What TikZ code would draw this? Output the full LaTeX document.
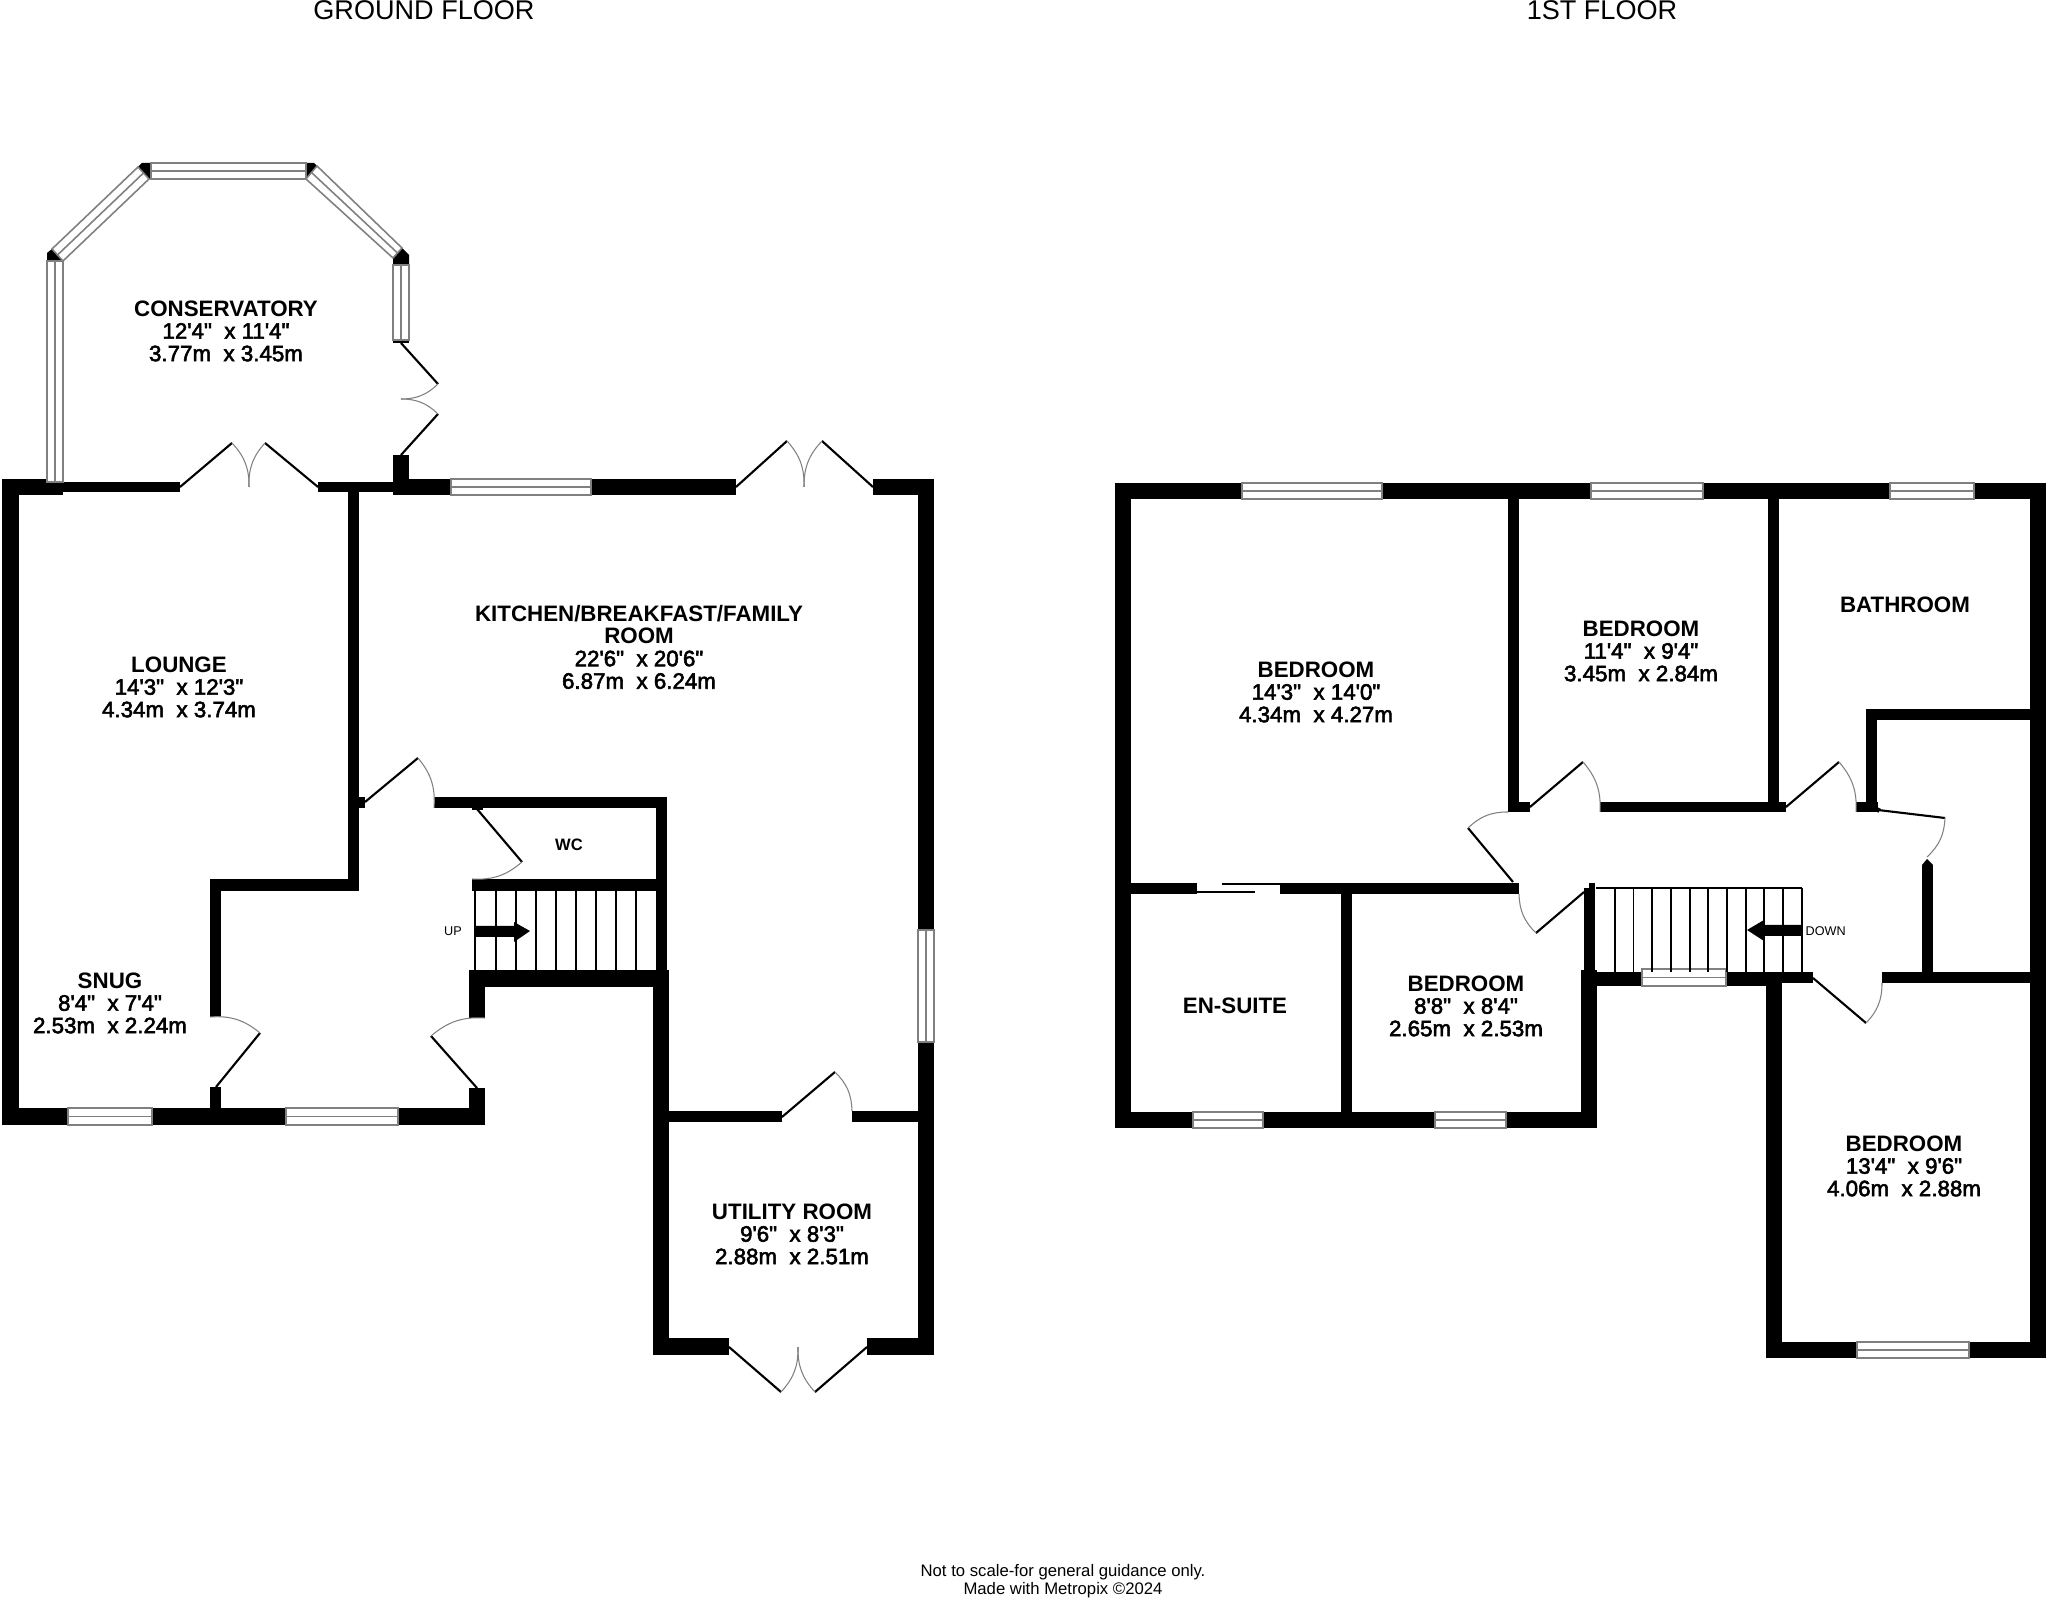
\documentclass[tikz,border=0pt]{standalone}
\usepackage{fontspec}
\usetikzlibrary{calc}
\newfontfamily\planfont{Liberation Sans}
\newfontfamily\roomfont[FakeBold=2.5]{Liberation Sans}
\newcommand{\roomname}[1]{{\planfont\bfseries #1}}
\tikzset{wall/.style = {fill=black}}
\tikzset{glaze/.style = {draw=black!50,fill=white,line width=0.45pt}}
\tikzset{leaf/.style = {draw=black,line width=0.6pt}}
\tikzset{swing/.style = {draw=black!50,line width=0.3pt}}
\tikzset{tread/.style = {draw=black,line width=0.4pt}}
\tikzset{room/.style = {font=\roomfont\fontsize{6.35}{6.4}\selectfont,align=center,inner sep=0pt}}
\tikzset{wcroom/.style = {font=\roomfont\fontsize{4.7}{5}\selectfont,inner sep=0pt}}
\tikzset{stairtext/.style = {font=\planfont\fontsize{3.6}{4}\selectfont,inner sep=0pt}}
\tikzset{title/.style = {font=\planfont\fontsize{7.7}{8}\selectfont,inner sep=0pt}}
\tikzset{notetext/.style = {font=\planfont\fontsize{4.75}{5.1}\selectfont,align=center,inner sep=0pt}}

\begin{document}
\begin{tikzpicture}[x=0.01cm,y=-0.01cm]
  \useasboundingbox (0,0) rectangle (2048,1601);

  \foreach \xa/\ya/\xb/\yb in {
    2/479/63/495, 2/479/19/1125, 63/482/180/492, 318/482/393/492, 393/455/409/495,
    409/479/451/495, 591/479/736/495, 873/479/934/495, 918/479/934/930, 918/1042/934/1355,
    348/482/359/891, 210/879/359/891, 210/879/221/1017, 210/1087/221/1108,
    2/1108/68/1125, 152/1108/286/1125, 398/1108/485/1125, 469/1088/485/1125,
    469/970/485/1018, 469/970/669/987, 653/970/669/1355, 656/797/667/970,
    434/797/667/808, 348/797/365/808, 472/808/483/810, 472/879/667/891,
    669/1111/782/1122, 852/1111/918/1122, 653/1338/729/1355, 867/1338/934/1355,
    1115/483/1242/499, 1382/483/1591/499, 1703/483/1890/499, 1974/483/2046/499,
    1115/483/1131/1128, 2030/483/2046/1358, 1508/499/1519/812, 1508/802/1530/812,
    1600/802/1786/812, 1768/499/1779/812, 1856/802/1878/812, 1866/709/1877/812,
    1866/709/2030/720, 1922/865/1933/983, 1882/972/2030/983,
    1131/883/1197/894, 1280/883/1519/894, 1341/894/1352/1115,
    1115/1112/1193/1128, 1263/1112/1435/1128, 1506/1112/1597/1128,
    1584/888/1595/970, 1589/883/1595/888, 1581/970/1597/1128,
    1581/972/1642/986, 1726/972/1766/986, 1726/972/1813/983, 1766/972/1782/1358,
    1766/1342/1857/1358, 1969/1342/2046/1358
  } {
    \fill[wall] (\xa,\ya) rectangle (\xb,\yb);
  }

  \fill[wall] (47,261) -- (47,253) -- (52,249) -- (63,260) -- (63,261) -- cycle;
  \fill[wall] (138,167) -- (142,163) -- (151,163) -- (151,179) -- (149,179) -- cycle;
  \fill[wall] (306,163) -- (314,163) -- (317,166) -- (306,179) -- cycle;
  \fill[wall] (402,248) -- (409,255) -- (409,265) -- (393,265) -- (393,258) -- cycle;
  \fill[wall] (393,340) rectangle (409,343);
  \fill[wall] (1922,865) -- (1927,859) -- (1933,865) -- cycle;
  \fill[wall] (1875,806) -- (1881,809) -- (1878,813) -- cycle;

  \foreach \xa/\ya/\xb/\yb in {
    151/163/306/179, 451/479/591/495, 68/1108/152/1125, 286/1108/398/1125,
    1242/483/1382/499, 1591/483/1703/499, 1890/483/1974/499, 1193/1112/1263/1128,
    1435/1112/1506/1128, 1642/969/1726/986, 1857/1342/1969/1358
  } {
    \draw[glaze] (\xa,\ya) rectangle (\xb,\yb);
    \draw[glaze] (\xa,{(\ya+\yb)/2}) -- (\xb,{(\ya+\yb)/2});
  }
  \foreach \xa/\ya/\xb/\yb in {47/261/63/482, 393/265/409/340, 918/930/934/1042} {
    \draw[glaze] (\xa,\ya) rectangle (\xb,\yb);
    \draw[glaze] ({(\xa+\xb)/2},\ya) -- ({(\xa+\xb)/2},\yb);
  }
  \draw[glaze] (52,249) -- (138,167) -- (149,179) -- (63,261) -- cycle;
  \draw[glaze] (57.5,255) -- (143.5,173);
  \draw[glaze] (317,166) -- (402,248) -- (393,258) -- (306,179) -- cycle;
  \draw[glaze] (311.5,172.5) -- (397.5,253);

  \foreach \hx/\hy/\tx/\ty/\ex/\ey/\b in {
    365/802/418/758/434/808/22, 477/809/522/862/472/879/22, 216/1087/260/1033/210/1017/-22,
    477/1088/431/1036/485/1018/22, 782/1117/835/1072/852/1111/22,
    180/487/232/443/249/487/22, 318/487/265/443/249/487/-22,
    401/343/438/384/401/399/22, 401/455/438/414/401/399/-22,
    736/487/787/441/804/487/22, 873/487/822/441/804/487/-22,
    729/1347/781/1392/798/1347/-22, 867/1347/815/1392/798/1347/22,
    1513/882/1468/828/1508/812/22, 1584/892/1536/933/1519/894/22,
    1530/807/1583/762/1600/812/22, 1786/807/1839/762/1856/812/22,
    1878/810/1945/818/1927/857/22, 1813/978/1866/1023/1882/983/-22
  } {
    \draw[leaf] (\hx,\hy) -- (\tx,\ty);
    \draw[swing] (\tx,\ty) to[bend left=\b] (\ex,\ey);
  }

  \draw[leaf] (1197,892) -- (1255,892);
  \draw[leaf] (1222,884) -- (1280,884);

  \foreach \x in {475,496,516,536,556,576,596,616,636} {
    \draw[tread] (\x,891) -- (\x,970);
  }
  \foreach \x in {1615,1633.5,1652,1671,1690,1708,1727,1746,1764,1783,1802} {
    \draw[tread] (\x,888) -- (\x,972);
  }
  \draw[tread] (1596,888) -- (1802,888);

  \fill[wall] (475,926) -- (514,926) -- (514,922) -- (530,931) -- (514,942) -- (514,937) -- (475,937) -- cycle;
  \fill[wall] (1802,925) -- (1764,925) -- (1764,920) -- (1747,930) -- (1764,941) -- (1764,936) -- (1802,936) -- cycle;

  \node[stairtext] (up) at (453,931) {UP};
  \node[stairtext,anchor=west] (down) at (1805,931) {DOWN};

  \node[title] (ground) at (424,10) {GROUND FLOOR};
  \node[title] (first) at (1602,10) {1ST FLOOR};

  \node[room] (conservatory) at (226,331) {\roomname{CONSERVATORY}\\12'4"\ \ x 11'4"\\3.77m\ \ x 3.45m};
  \node[room] (lounge) at (179,687) {\roomname{LOUNGE}\\14'3"\ \ x 12'3"\\4.34m\ \ x 3.74m};
  \node[room] (kitchen) at (639,647) {\roomname{KITCHEN/BREAKFAST/FAMILY}\\\roomname{ROOM}\\22'6"\ \ x 20'6"\\6.87m\ \ x 6.24m};
  \node[room] (snug) at (110,1003) {\roomname{SNUG}\\8'4"\ \ x 7'4"\\2.53m\ \ x 2.24m};
  \node[wcroom] (wc) at (569,845) {\roomname{WC}};
  \node[room] (utility) at (792,1234) {\roomname{UTILITY ROOM}\\9'6"\ \ x 8'3"\\2.88m\ \ x 2.51m};
  \node[room] (bedroomA) at (1316,692) {\roomname{BEDROOM}\\14'3"\ \ x 14'0"\\4.34m\ \ x 4.27m};
  \node[room] (bedroomB) at (1641,651) {\roomname{BEDROOM}\\11'4"\ \ x 9'4"\\3.45m\ \ x 2.84m};
  \node[room] (bathroom) at (1905,605) {\roomname{BATHROOM}};
  \node[room] (ensuite) at (1235,1006) {\roomname{EN-SUITE}};
  \node[room] (bedroomC) at (1466,1006) {\roomname{BEDROOM}\\8'8"\ \ x 8'4"\\2.65m\ \ x 2.53m};
  \node[room] (bedroomD) at (1904,1166) {\roomname{BEDROOM}\\13'4"\ \ x 9'6"\\4.06m\ \ x 2.88m};

  \node[notetext] (note) at (1063,1581) {Not to scale-for general guidance only.\\Made with Metropix \textcopyright 2024};
\end{tikzpicture}
\end{document}
